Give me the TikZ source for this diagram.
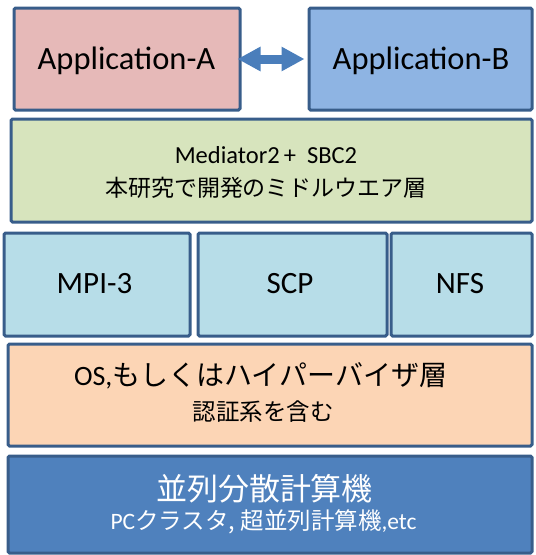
\documentclass[tikz,border=0pt]{standalone}
\usepackage{fontspec}
\setmainfont{Carlito}
\newfontfamily\jp{Noto Sans CJK JP}
\usetikzlibrary{arrows.meta}
\definecolor{bordc}{HTML}{385D8A}
\definecolor{fa}{HTML}{E6B9B8}
\definecolor{fb}{HTML}{8EB4E3}
\definecolor{fmed}{HTML}{D7E4BD}
\definecolor{fmid}{HTML}{B7DDE8}
\definecolor{fos}{HTML}{FCD5B5}
\definecolor{fhw}{HTML}{4F81BD}
\definecolor{arrc}{HTML}{4A7EBB}
\tikzset{
  layer/.style={draw=bordc, line width=3pt, rounded corners=1.5pt, inner sep=0pt},
  txt/.style={inner sep=0pt, text=black},
  big/.style={font=\fontsize{31}{34}\selectfont},
  app/.style={font=\fontsize{32.5}{36}\selectfont},
}
\begin{document}
\begin{tikzpicture}[x=1pt,y=-1pt]
\useasboundingbox (0,0) rectangle (536,555);
% boxes
\node[layer, fill=fa, minimum width=226pt, minimum height=102pt] (appA) at (127,59) {};
\node[layer, fill=fb, minimum width=223pt, minimum height=102pt] (appB) at (420.5,59) {};
\node[layer, fill=fmed, minimum width=521pt, minimum height=103pt] (med) at (271.5,170.5) {};
\node[layer, fill=fmid, minimum width=186pt, minimum height=103pt] (mpi) at (97,284.5) {};
\node[layer, fill=fmid, minimum width=189pt, minimum height=103pt] (scp) at (292.5,284.5) {};
\node[layer, fill=fmid, minimum width=141pt, minimum height=103pt] (nfs) at (461.5,284.5) {};
\node[layer, fill=fos, minimum width=524pt, minimum height=102pt] (os) at (270,395) {};
\node[layer, fill=fhw, minimum width=524pt, minimum height=97pt] (hw) at (270,504.5) {};
% texts
\node[txt, app] (appAt) at (126.5,61) {Application-A};
\node[txt, app] (appBt) at (421,61) {Application-B};
\node[txt, font=\fontsize{24.5}{28}\selectfont] (medt1) at (266,155) {Mediator2\,+\ \ SBC2};
\node[txt, font=\jp\fontsize{23}{26}\selectfont] (medt2) at (266,187.5) {本研究で開発のミドルウエア層};
\node[txt, big] (mpit) at (94.5,284) {MPI-3};
\node[txt, big] (scpt) at (290,284) {SCP};
\node[txt, big] (nfst) at (460,284) {NFS};
\node[txt, font=\fontsize{28}{32}\selectfont] (ost1) at (260.5,376) {OS,{\jp もしくはハイパーバイザ層}};
\node[txt, font=\jp\fontsize{23.5}{26}\selectfont] (ost2) at (263,412) {認証系を含む};
\node[txt, text=white, font=\jp\fontsize{31}{34}\selectfont] (hwt1) at (264.5,488.5) {並列分散計算機};
\node[txt, text=white, font=\fontsize{23.5}{26}\selectfont] (hwt2) at (263.5,522) {PC{\jp クラスタ, 超並列計算機},etc};
% arrow
\draw[arrc, line width=9pt, shorten <=-4pt, shorten >=3pt,
  {Triangle[length=23pt,width=23pt]}-{Triangle[length=23pt,width=23pt]}] (appA.east) -- (appB.west);
\end{tikzpicture}
\end{document}
